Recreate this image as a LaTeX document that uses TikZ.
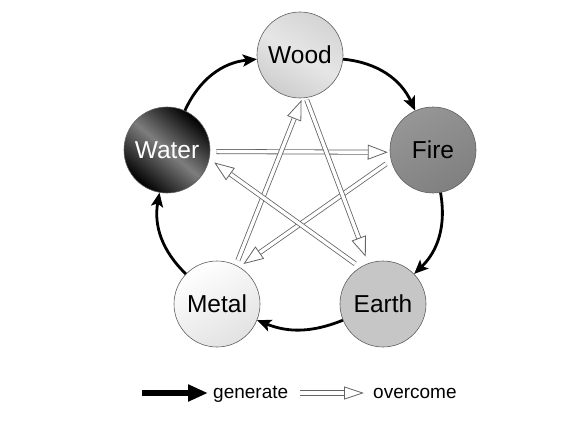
\documentclass[tikz,border=0pt]{standalone}
\usepackage{fontspec}
\setmainfont{Liberation Sans}
\usetikzlibrary{arrows.meta}
\definecolor{edgegray}{RGB}{95,95,95}
\definecolor{ovgray}{RGB}{100,100,100}
\definecolor{earthgray}{RGB}{198,198,198}
\begin{document}
\begin{tikzpicture}[x=1pt,y=-1pt,
  elem/.style={circle, minimum size=86pt, inner sep=0pt, draw=edgegray, line width=0.6pt, font=\fontsize{24.5}{27}\selectfont},
  gen/.style={line width=2.8pt, -{Stealth[length=14pt, width=12pt, inset=3pt]}},
  overc/.style={draw=ovgray, line width=0.8pt, double=white, double distance=3.4pt, -{Triangle[open, length=20pt, width=15pt, fill=white, line width=0.8pt]}},
  legtext/.style={anchor=base west, inner sep=0pt, font=\fontsize{19}{21}\selectfont}
]
\useasboundingbox (0,0) rectangle (588,420);
\node[elem, shading=axis, top color={rgb,255:red,212;green,212;blue,212}, bottom color={rgb,255:red,206;green,206;blue,206}, middle color={rgb,255:red,230;green,230;blue,230}, shading angle=-30] (wood) at (300,55) {Wood};
\node[elem, shading=axis, top color={rgb,255:red,150;green,150;blue,150}, bottom color={rgb,255:red,128;green,128;blue,128}, shading angle=30] (fire) at (433,150) {Fire};
\node[elem, shading=axis, left color=black, right color=black, middle color={rgb,255:red,125;green,125;blue,125}, shading angle=-40, text=white] (water) at (167,150) {Water};
\node[elem, shading=axis, top color=white, bottom color={rgb,255:red,226;green,226;blue,226}, shading angle=30] (metal) at (217,304) {Metal};
\node[elem, fill=earthgray] (earth) at (383,304) {Earth};
% generate cycle
\draw[gen] (water) to[bend left=30] (wood);
\draw[gen] (wood) to[bend left=30] (fire);
\draw[gen] (fire) to[bend left=28] (earth);
\draw[gen] (earth) to[bend left=22] (metal);
\draw[gen] (metal) to[bend left=28] (water);
% overcome star
\draw[overc, shorten <=6pt, shorten >=2pt] (water.-2) -- (fire.183);
\draw[overc, shorten <=6pt, shorten >=5pt] (fire.194) -- (metal.59);
\draw[overc, shorten <=5pt, shorten >=2pt] (metal.64) -- (wood.-87);
\draw[overc, shorten <=2pt, shorten >=7pt] (wood.-82) -- (earth.110);
\draw[overc, shorten <=6pt, shorten >=6pt] (earth.122) -- (water.-12);
% legend
\coordinate (g1) at (142,393);
\coordinate (g2) at (208,393);
\coordinate (o1) at (300,393);
\coordinate (o2) at (364,393);
\draw[line width=6.2pt, -{Triangle[length=20pt, width=16pt]}] (g1) -- (g2);
\node[legtext] (lg) at (213,398) {generate};
\draw[draw=ovgray, line width=0.8pt, double=white, double distance=4.2pt, -{Triangle[open, length=20pt, width=13pt, fill=white, line width=0.8pt]}] (o1) -- (o2);
\node[legtext] (lo) at (373,398) {overcome};
\end{tikzpicture}
\end{document}
